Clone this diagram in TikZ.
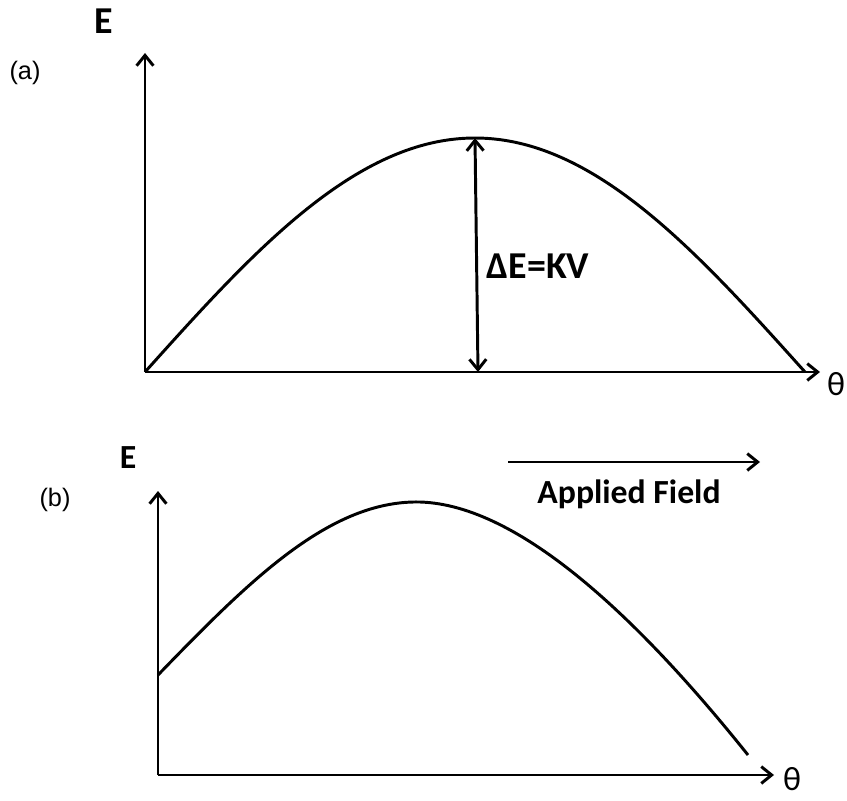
\documentclass[tikz,border=0pt]{standalone}
\usepackage{fontspec}
\setmainfont{Carlito}
\newfontfamily\arialfont{Liberation Sans}
\usetikzlibrary{arrows.meta,positioning}
\tikzset{
  axisline/.style={-{Straight Barb[length=2.6mm,width=4.2mm]},line width=2.1pt,draw=black},
  curveline/.style={line width=2.1pt,draw=black},
  gaparrow/.style={{Straight Barb[length=2.6mm,width=4.2mm]}-{Straight Barb[length=2.6mm,width=4.2mm]},line width=2.1pt,draw=black},
  axislabel/.style={font=\fontsize{24}{28}\selectfont\bfseries,inner sep=0pt},
  biglabel/.style={font=\fontsize{27}{30}\selectfont\bfseries,inner sep=0pt},
  anglelabel/.style={font=\fontsize{24}{28}\selectfont,inner sep=0pt},
  panellabel/.style={font=\arialfont\fontsize{18}{21}\selectfont,inner sep=0pt}
}
\begin{document}
\begin{tikzpicture}[x=0.025cm,y=-0.025cm]
  \useasboundingbox (0,0) rectangle (847,801);
  % panel (a)
  \coordinate (oa) at (145,372);
  \coordinate (ya) at (145,53);
  \coordinate (xa) at (820,372);
  \coordinate (peaka) at (475,138);
  \coordinate (basea) at (478,372);
  \node[biglabel] (ea) at (104,21) {E};
  \node[panellabel] (pa) at (25,73) {(a)};
  \node[anglelabel] (ta) at (836,384) {θ};
  \draw[axisline] (oa) -- (ya);
  \draw[axisline] (oa) -- (xa);
  \draw[curveline] plot[domain=0:180,samples=90,smooth] ({145+3.6667*\x},{372-234*sin(\x)});
  \draw[gaparrow] (peaka) -- (basea);
  \node[biglabel] (gap) at (538,266) {ΔE=KV};
  % panel (b)
  \coordinate (ob) at (158,775);
  \coordinate (yb) at (158,491);
  \coordinate (xb) at (774,775);
  \node[axislabel] (eb) at (128,458) {E};
  \node[panellabel] (pb) at (55,500) {(b)};
  \node[anglelabel] (tb) at (792,779) {θ};
  \draw[axisline] (ob) -- (yb);
  \draw[axisline] (ob) -- (xb);
  \draw[curveline] (158,675) .. controls (250,580) and (330,500) .. (420,502)
    .. controls (520,505) and (640,620) .. (748,755);
  \coordinate (fa) at (508,462);
  \coordinate (fb) at (760,462);
  \draw[axisline] (fa) -- (fb);
  \node[axislabel] (field) at (629,494) {Applied Field};
\end{tikzpicture}
\end{document}
